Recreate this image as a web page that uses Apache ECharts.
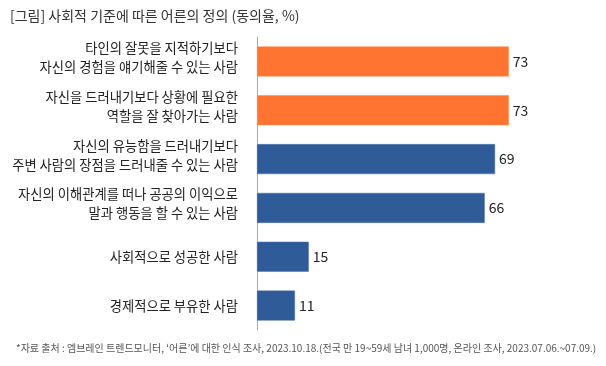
<!DOCTYPE html>
<html><head><meta charset="utf-8">
<script src="https://cdn.jsdelivr.net/npm/echarts@6/dist/echarts.min.js"></script>
<style>html,body{margin:0;padding:0;background:#fff}#c{width:606px;height:366px}</style>
</head><body><div id="c"></div>
<script>
var categories = [
  '타인의 잘못을 지적하기보다\n자신의 경험을 얘기해줄 수 있는 사람',
  '자신을 드러내기보다 상황에 필요한\n역할을 잘 찾아가는 사람',
  '자신의 유능함을 드러내기보다\n주변 사람의 장점을 드러내줄 수 있는 사람',
  '자신의 이해관계를 떠나 공공의 이익으로\n말과 행동을 할 수 있는 사람',
  '사회적으로 성공한 사람',
  '경제적으로 부유한 사람'
];
var values = [73, 73, 69, 66, 15, 11];
var highlight = [true, true, false, false, false, false];
var titleText = '[그림] 사회적 기준에 따른 어른의 정의 (동의율, %)';
var sourceText = '*자료 출처 : 엠브레인 트렌드모니터, ‘어른’에 대한 인식 조사, 2023.10.18.(전국 만 19~59세 남녀 1,000명, 온라인 조사, 2023.07.06.~07.09.)';

var font = '"Noto Sans CJK KR", "Noto Sans", sans-serif';
var chart = echarts.init(document.getElementById('c'));
chart.setOption({
  animation: false,
  textStyle: {fontFamily: font},
  title: [
    {text: titleText, left: 5, top: 4, textStyle: {fontFamily: font, fontSize: 14, fontWeight: 'normal', color: '#333'}},
    {text: sourceText, left: 11, top: 338, textStyle: {fontFamily: font, fontSize: 10, fontWeight: 'normal', color: '#555'}}
  ],
  grid: {left: 257, right: 4, top: 37, height: 293},
  xAxis: {type: 'value', min: 0, max: 100, show: false},
  yAxis: {
    type: 'category', inverse: true, data: categories,
    axisLine: {show: true, lineStyle: {color: '#aaa', width: 1}},
    axisTick: {show: false},
    axisLabel: {
      margin: 19, align: 'right',
      formatter: function (v) {
        if (v.indexOf('\n') >= 0) {
          return v.split('\n').map(function (l) { return '{a|' + l + '}'; }).join('\n') + '\n{s| }';
        }
        return '{a|' + v + '}';
      },
      rich: {
        a: {fontSize: 13.3, lineHeight: 19, color: '#222', fontFamily: font, align: 'right'},
        s: {fontSize: 6, lineHeight: 8}
      }
    }
  },
  series: [{
    type: 'bar', barWidth: 30,
    data: values.map(function (v, i) {
      return {value: v, itemStyle: {color: highlight[i] ? '#FF7430' : '#2F5B99',
        borderColor: highlight[i] ? '#FF8A50' : '#4A72AA', borderWidth: 0.5}};
    }),
    label: {show: true, position: 'right', distance: 4, fontSize: 14, color: '#222', fontFamily: font}
  }]
});
</script></body></html>
